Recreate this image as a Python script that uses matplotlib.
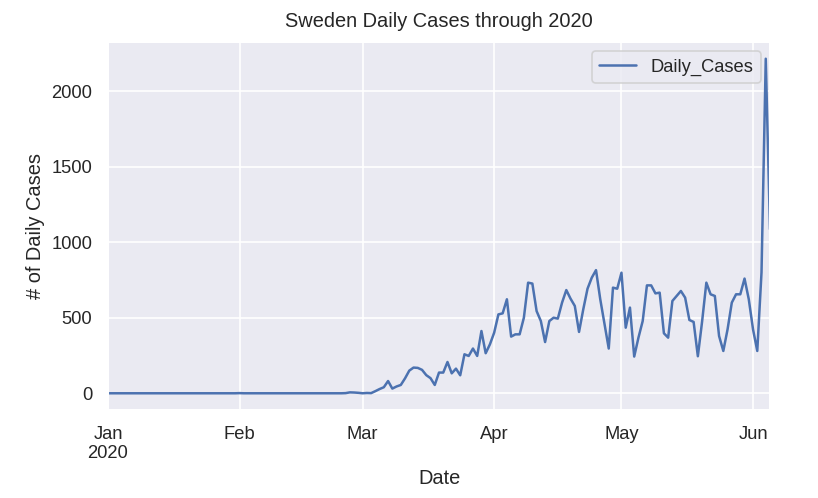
import numpy as np
import pandas as pd
import matplotlib
matplotlib.use("Agg")
import matplotlib.pyplot as plt
import seaborn as sns


# ==================================
# DATA
# ==================================

START_DATE = "2020-01-01"
END_DATE = "2020-06-05"

jan_cases = [0] * 31

feb_cases = [1] + [0] * 24 + [1, 6, 5, 3]

mar_cases = [0, 2, 1, 14, 28, 40, 81, 31, 45, 55,
             99, 150, 170, 168, 155, 120, 100, 55, 137, 137,
             207, 132, 163, 119, 258, 247, 296, 247, 412, 265,
             324]

apr_cases = [401, 522, 529, 622, 375, 390, 390, 500, 732, 726,
             544, 478, 339, 478, 500, 494, 600, 683, 626, 578,
             406, 556, 692, 765, 815, 622, 460, 296, 699, 692]

may_cases = [798, 434, 567, 243, 368, 478, 714, 714, 661, 666,
             397, 368, 611, 644, 677, 633, 485, 472, 245, 475,
             732, 655, 644, 379, 280, 423, 600, 655, 655, 759,
             622]

jun_cases = [423, 280, 800, 2214, 1085]

daily_cases = (jan_cases + feb_cases + mar_cases
               + apr_cases + may_cases + jun_cases)

dates = pd.date_range(START_DATE, END_DATE, freq="D", name="Date")

df = pd.DataFrame({"Daily_Cases": daily_cases}, index=dates)


# ==================================
# STYLE
# ==================================

sns.set_theme()
plt.rcParams["font.family"] = ["Liberation Sans", "DejaVu Sans"]

DPI = 120


# ==================================
# PLOT
# ==================================

fig, ax = plt.subplots(figsize=(818 / DPI, 498 / DPI), dpi=DPI)

fig.subplots_adjust(
    left=108 / 818,
    right=770 / 818,
    top=1 - 42 / 498,
    bottom=1 - 410 / 498
)

df.plot(ax=ax)

ax.set_title("Sweden Daily Cases through 2020", pad=9)
ax.set_ylabel("# of Daily Cases")
ax.set_xlabel("Date")

fig.savefig("out.png", dpi=DPI)
